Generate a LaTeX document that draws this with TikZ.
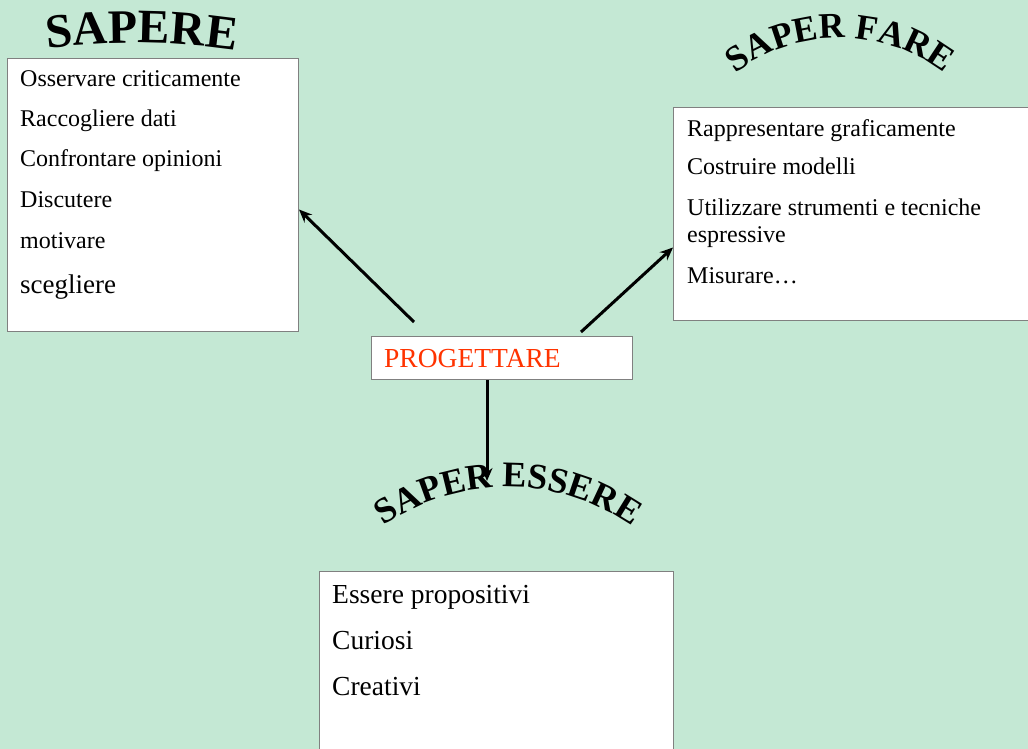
\documentclass[tikz,border=0pt]{standalone}
\usepackage{fontspec}
\setmainfont{Liberation Serif}
\usetikzlibrary{arrows.meta,positioning,decorations.text}
\definecolor{mint}{RGB}{196,232,212}
\definecolor{boxline}{RGB}{128,128,128}
\definecolor{progred}{RGB}{255,51,0}

\begin{document}
\begin{tikzpicture}[x=1pt,y=1pt,
  every node/.style={inner sep=0pt},
  box/.style={draw=boxline, line width=1pt, fill=white, anchor=north west},
  item/.style={anchor=base west, font=\fontsize{24}{24}\selectfont},
  bigitem/.style={anchor=base west, font=\fontsize{27.5}{27.5}\selectfont},
  arr/.style={line width=3pt, -{Stealth[length=13pt,width=11pt]}},
  title/.style={decorate, decoration={text along path, text align=center}}]
  \useasboundingbox (0,0) rectangle (1028,-749);
  \fill [mint] (0,0) rectangle (1028,-749);

  % boxes
  \node [box, minimum width=291, minimum height=273] (sapere) at (7,-58) {};
  \node [box, minimum width=370, minimum height=213] (fare) at (673,-107) {};
  \node [box, minimum width=261, minimum height=43] (prog) at (371,-336) {};
  \node [box, minimum width=354, minimum height=200] (essere) at (319,-571) {};

  % SAPERE
  \node [item] (s1) at (20,-87) {Osservare criticamente};
  \node [item] (s2) at (20,-127) {Raccogliere dati};
  \node [item] (s3) at (20,-167) {Confrontare opinioni};
  \node [item] (s4) at (20,-207) {Discutere};
  \node [item] (s5) at (20,-248) {motivare};
  \node [anchor=base west, font=\fontsize{27}{27}\selectfont] (s6) at (20,-293) {scegliere};

  % SAPER FARE
  \node [item] (f1) at (687,-136) {Rappresentare graficamente};
  \node [item] (f2) at (687,-175) {Costruire modelli};
  \node [item] (f3) at (687,-215) {Utilizzare strumenti e tecniche};
  \node [item] (f4) at (687,-242) {espressive};
  \node [item] (f5) at (687,-283) {Misurare\ldots};

  % centre and SAPER ESSERE
  \node [bigitem, text=progred] (p) at (384,-367) {PROGETTARE};
  \node [bigitem] (e1) at (332,-603) {Essere propositivi};
  \node [bigitem] (e2) at (332,-649) {Curiosi};
  \node [bigitem] (e3) at (332,-695) {Creativi};

  % curved titles
  \coordinate (sapc) at (135,-743);
  \coordinate (farec) at (840,-210);
  \coordinate (essc) at (508,-705);
  \path [decorate, decoration={text along path, text align=left,
    text={|\fontsize{48}{48}\selectfont\bfseries|SAPERE}}]
    ([shift={(97.2:700)}]sapc) arc [start angle=97.2, end angle=70, radius=700];
  \path [title, decoration={text={|\fontsize{36}{36}\selectfont\bfseries|SAPER FARE}}]
    ([shift={(150:172)}]farec) arc [start angle=150, end angle=30, radius=172];
  \path [title, decoration={text={|\fontsize{36}{36}\selectfont\bfseries|SAPER ESSERE}}]
    ([shift={(150:218)}]essc) arc [start angle=150, end angle=30, radius=218];

  % arrows
  \coordinate (a1) at (414,-322);
  \coordinate (a2) at (581,-332);
  \coordinate (a3) at (487,-481);
  \draw [arr] (a1) -- ([yshift=-14.5]sapere.east);
  \draw [arr] (a2) -- ([yshift=-33.5]fare.west);
  \draw [arr] (prog.south -| a3) -- (a3);
\end{tikzpicture}
\end{document}
